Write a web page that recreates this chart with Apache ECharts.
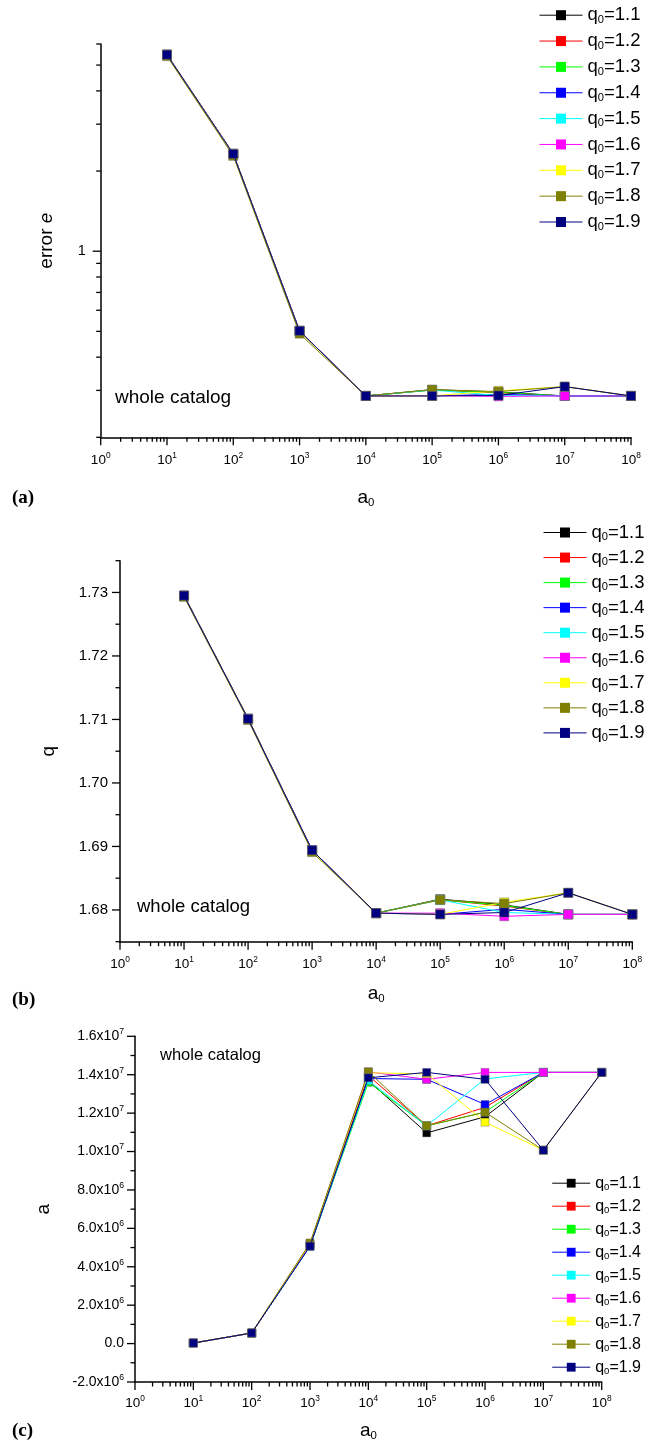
<!DOCTYPE html>
<html>
<head>
<meta charset="utf-8">
<script src="https://cdn.jsdelivr.net/npm/echarts@6/dist/echarts.min.js"></script>
<style>
  html, body { margin: 0; padding: 0; background: #fff; }
  #chart { width: 659px; height: 1446px; }
</style>
</head>
<body>
<div id="chart"></div>
<script>
// Starting scale parameter a0 (x axis of every panel)
const a0 = [1e1, 1e2, 1e3, 1e4, 1e5, 1e6, 1e7, 1e8];

// Initial q0 of each fit run
const q0 = ['1.1', '1.2', '1.3', '1.4', '1.5', '1.6', '1.7', '1.8', '1.9'];
const seriesColors = ['#000000', '#ff0000', '#00ff00', '#0000ff', '#00ffff',
                      '#ff00ff', '#ffff00', '#808000', '#000080'];

// (a) fit error e, one row per q0
const errorE = [
  [5.47, 2.32, 0.502, 0.286, 0.302, 0.296, 0.286, 0.286],
  [5.47, 2.32, 0.502, 0.286, 0.301, 0.294, 0.286, 0.286],
  [5.47, 2.32, 0.502, 0.286, 0.301, 0.295, 0.286, 0.286],
  [5.47, 2.32, 0.502, 0.286, 0.286, 0.290, 0.286, 0.286],
  [5.47, 2.32, 0.502, 0.286, 0.301, 0.287, 0.286, 0.286],
  [5.47, 2.32, 0.502, 0.286, 0.287, 0.285, 0.286, 0.286],
  [5.47, 2.32, 0.500, 0.286, 0.286, 0.299, 0.310, 0.286],
  [5.40, 2.28, 0.490, 0.286, 0.302, 0.297, 0.310, 0.286],
  [5.47, 2.32, 0.502, 0.286, 0.286, 0.287, 0.310, 0.286]
];

// (b) fitted q, one row per q0
const qFit = [
  [1.7295, 1.7101, 1.6894, 1.6795, 1.6817, 1.6808, 1.6793, 1.6793],
  [1.7295, 1.7101, 1.6894, 1.6795, 1.6816, 1.6806, 1.6793, 1.6793],
  [1.7295, 1.7101, 1.6894, 1.6795, 1.6816, 1.6807, 1.6793, 1.6793],
  [1.7295, 1.7101, 1.6894, 1.6795, 1.6793, 1.6801, 1.6793, 1.6793],
  [1.7295, 1.7101, 1.6894, 1.6795, 1.6816, 1.6796, 1.6793, 1.6793],
  [1.7295, 1.7101, 1.6894, 1.6795, 1.6795, 1.6790, 1.6793, 1.6793],
  [1.7295, 1.7101, 1.6893, 1.6795, 1.6793, 1.6812, 1.6827, 1.6793],
  [1.7293, 1.7099, 1.6891, 1.6795, 1.6816, 1.6810, 1.6827, 1.6793],
  [1.7295, 1.7101, 1.6894, 1.6795, 1.6793, 1.6796, 1.6827, 1.6793]
];

// (c) fitted a, one row per q0
const aFit = [
  [3.0e4, 5.5e5, 5.10e6, 1.370e7, 1.097e7, 1.181e7, 1.412e7, 1.412e7],
  [3.0e4, 5.5e5, 5.15e6, 1.395e7, 1.134e7, 1.230e7, 1.412e7, 1.412e7],
  [3.0e4, 5.5e5, 5.10e6, 1.360e7, 1.134e7, 1.205e7, 1.412e7, 1.412e7],
  [3.0e4, 5.5e5, 5.07e6, 1.380e7, 1.376e7, 1.245e7, 1.412e7, 1.412e7],
  [3.0e4, 5.5e5, 5.07e6, 1.370e7, 1.134e7, 1.378e7, 1.412e7, 1.412e7],
  [3.0e4, 5.5e5, 5.15e6, 1.415e7, 1.376e7, 1.412e7, 1.412e7, 1.412e7],
  [3.0e4, 5.5e5, 5.20e6, 1.410e7, 1.405e7, 1.153e7, 1.007e7, 1.412e7],
  [3.0e4, 5.5e5, 5.24e6, 1.415e7, 1.134e7, 1.205e7, 1.007e7, 1.412e7],
  [3.0e4, 5.5e5, 5.07e6, 1.384e7, 1.412e7, 1.376e7, 1.007e7, 1.412e7]
];

// Axis ranges and labelled ticks
const xRange = [1, 1e8];
const eRange = [0.2, 6];
const eMajorTicks = [1];
const qRange = [1.675, 1.735];
const qLabelStep = 0.01;
const aRange = [-2e6, 1.6e7];
const aLabelStep = 2e6;

const FONT = '"Liberation Sans", Arial, sans-serif';
const seriesNames = q0.map(v => 'q0=' + v);

// Minor tick values of a decade axis: 2..9 x 10^n
function decadeMinors(lo, hi) {
  const out = [];
  for (let d = Math.round(Math.log10(lo)); d < Math.round(Math.log10(hi)); d++) {
    for (let m = 2; m <= 9; m++) out.push(m * Math.pow(10, d));
  }
  return out;
}
function decades(lo, hi) {
  const out = [];
  for (let d = Math.round(Math.log10(lo)); d <= Math.round(Math.log10(hi)); d++) out.push(Math.pow(10, d));
  return out;
}
function steps(lo, hi, step) {
  const out = [];
  const n = Math.round((hi - lo) / step);
  for (let i = 0; i <= n; i++) out.push(+(lo + i * step).toFixed(10));
  return out;
}

// Tick items for the custom tick series: [x, y, axisKind(0=x,1=y), major]
function tickItems(xMajor, xMinor, yMajor, yMinor, x0, y0) {
  const out = [];
  xMajor.forEach(v => out.push([v, y0, 0, 1]));
  xMinor.forEach(v => out.push([v, y0, 0, 0]));
  yMajor.forEach(v => out.push([x0, v, 1, 1]));
  yMinor.forEach(v => out.push([x0, v, 1, 0]));
  return out;
}

const eMinorTicks = [0.2, 0.3, 0.4, 0.5, 0.6, 0.7, 0.8, 0.9, 2, 3, 4, 5, 6];
const qAll = steps(qRange[0], qRange[1], qLabelStep / 2);
const qMajor = qAll.filter(v => Math.abs(v * 100 - Math.round(v * 100)) < 1e-6);
const qMinor = qAll.filter(v => Math.abs(v * 100 - Math.round(v * 100)) >= 1e-6);
const aAll = steps(aRange[0], aRange[1], aLabelStep / 2);
const aMajor = aAll.filter(v => Math.abs(v / aLabelStep - Math.round(v / aLabelStep)) < 1e-6);
const aMinor = aAll.filter(v => Math.abs(v / aLabelStep - Math.round(v / aLabelStep)) >= 1e-6);

const ticksA = tickItems(decades(xRange[0], xRange[1]), decadeMinors(xRange[0], xRange[1]), eMajorTicks, eMinorTicks, xRange[0], eRange[0]);
const ticksB = tickItems(decades(xRange[0], xRange[1]), decadeMinors(xRange[0], xRange[1]), qMajor, qMinor, xRange[0], qRange[0]);
const ticksC = tickItems(decades(xRange[0], xRange[1]), decadeMinors(xRange[0], xRange[1]), aMajor, aMinor, xRange[0], aRange[0]);

const supRich = (size) => ({
  b: { fontSize: size, fontFamily: FONT, color: '#000', lineHeight: size + 4 },
  s: { fontSize: size * 0.62, fontFamily: FONT, color: '#000', verticalAlign: 'top', lineHeight: size + 4, padding: [0, 0, size * 0.6, 0] }
});
function powLabel(v) {
  const e = Math.round(Math.log10(v));
  return '{b|10}{s|' + e + '}';
}
function sciLabel(v) {
  if (Math.abs(v) < 1e-9) return '{b|0.0}';
  const e = Math.floor(Math.log10(Math.abs(v)) + 1e-9);
  const m = v / Math.pow(10, e);
  return '{b|' + m.toFixed(1) + 'x10}{s|' + e + '}';
}

const subRich = (size) => ({
  t: { fontSize: size, fontFamily: FONT, color: '#000', lineHeight: size + 2 },
  s: { fontSize: size * 0.6, fontFamily: FONT, color: '#000', verticalAlign: 'bottom', lineHeight: size + 2, padding: [size * 0.45, 0, 0, 0] }
});

function xAxisFor(gridIndex, gap, margin) {
  return {
    type: 'log', logBase: 10, gridIndex, min: xRange[0], max: xRange[1],
    axisLine: { onZero: false, lineStyle: { color: '#000', width: 1.5 } },
    axisTick: { show: false },
    splitLine: { show: false },
    axisLabel: { formatter: powLabel, margin, rich: supRich(13.5) },
    name: '{t|a}{s|0}', nameLocation: 'middle', nameGap: gap,
    nameTextStyle: { rich: subRich(19) }
  };
}

function tickSeries(axisIdx, data) {
  return {
    type: 'custom', xAxisIndex: axisIdx, yAxisIndex: axisIdx, clip: false,
    silent: true, z: 5, data,
    renderItem(params, api) {
      const p = api.coord([api.value(0), api.value(1)]);
      const len = api.value(3) ? 8 : 4.5;
      const horiz = api.value(2) === 1;
      const shape = horiz
        ? { x1: p[0] - len, y1: p[1], x2: p[0], y2: p[1] }
        : { x1: p[0], y1: p[1], x2: p[0], y2: p[1] + len };
      return { type: 'line', shape, style: { stroke: '#000', lineWidth: 1.3 } };
    }
  };
}

const panelValues = [errorE, qFit, aFit];
const symbolSizes = [9, 9, 8];
const series = [];
panelValues.forEach((rows, p) => {
  rows.forEach((row, i) => {
    series.push({
      type: 'line', name: seriesNames[i], xAxisIndex: p, yAxisIndex: p,
      data: a0.map((x, j) => [x, row[j]]),
      symbol: 'rect', symbolSize: symbolSizes[p],
      lineStyle: { width: 1, color: seriesColors[i] },
      itemStyle: { color: seriesColors[i], borderColor: 'rgba(110,110,110,0.7)', borderWidth: 0.6 },
      emphasis: { disabled: true }, animation: false, z: 2 + i * 0.01
    });
  });
});
series.push(tickSeries(0, ticksA), tickSeries(1, ticksB), tickSeries(2, ticksC));

function legendFor(left, top, size, gap, width, height) {
  return {
    data: seriesNames, orient: 'vertical', left, top, itemGap: gap, padding: 0,
    itemWidth: width, itemHeight: height, selectedMode: false,
    itemStyle: { borderWidth: 0 },
    lineStyle: { width: 1 },
    formatter: name => '{t|q}{s|0}{t|' + name.slice(2) + '}',
    textStyle: { rich: subRich(size), padding: [0, 0, 0, 0] }
  };
}

const option = {
  animation: false,
  backgroundColor: '#fff',
  grid: [
    { left: 100.7, right: 28, top: 44, height: 393.3 },
    { left: 120, right: 26.7, top: 560.7, height: 381 },
    { left: 135, right: 57.3, top: 1036.3, height: 345.7 }
  ],
  xAxis: [xAxisFor(0, 50, 14), xAxisFor(1, 42, 14), xAxisFor(2, 38, 13)],
  yAxis: [
    {
      type: 'log', logBase: 10, gridIndex: 0, min: eRange[0], max: eRange[1],
      axisLine: { lineStyle: { color: '#000', width: 1.5 } },
      axisTick: { show: false }, splitLine: { show: false },
      axisLabel: {
        margin: 15, fontSize: 14.5, fontFamily: FONT, color: '#000',
        formatter: v => eMajorTicks.some(t => Math.abs(v - t) < 1e-9) ? String(v) : ''
      },
      name: '{n|error }{i|e}', nameLocation: 'middle', nameRotate: 90, nameGap: 44,
      nameTextStyle: { rich: {
        n: { fontSize: 19, fontFamily: FONT, color: '#000' },
        i: { fontSize: 19, fontFamily: FONT, color: '#000', fontStyle: 'italic' }
      } }
    },
    {
      type: 'value', gridIndex: 1, min: qRange[0], max: qRange[1], interval: qLabelStep / 2,
      axisLine: { show: true, onZero: false, lineStyle: { color: '#000', width: 1.5 } },
      axisTick: { show: false }, splitLine: { show: false },
      axisLabel: {
        margin: 12, fontSize: 15, fontFamily: FONT, color: '#000',
        formatter: v => qMajor.some(t => Math.abs(v - t) < 1e-9) ? v.toFixed(2) : ''
      },
      name: 'q', nameLocation: 'middle', nameRotate: 90, nameGap: 62,
      nameTextStyle: { fontSize: 19, fontFamily: FONT, color: '#000' }
    },
    {
      type: 'value', gridIndex: 2, min: aRange[0], max: aRange[1], interval: aLabelStep,
      axisLine: { show: true, onZero: false, lineStyle: { color: '#000', width: 1.5 } },
      axisTick: { show: false }, splitLine: { show: false },
      axisLabel: { margin: 11, formatter: sciLabel, rich: supRich(14) },
      name: 'a', nameLocation: 'middle', nameRotate: 90, nameGap: 82,
      nameTextStyle: { fontSize: 19, fontFamily: FONT, color: '#000' }
    }
  ],
  legend: [
    legendFor(539, 5.7, 18.5, 6.1, 43, 12.5),
    legendFor(543, 523, 18.5, 5.3, 43, 12.5),
    legendFor(551.7, 1175, 16, 5.8, 38, 11)
  ],
  graphic: [
    { type: 'text', left: 115, top: 388, style: { text: 'whole catalog', font: '19px ' + FONT, fill: '#000' } },
    { type: 'text', left: 137, top: 897, style: { text: 'whole catalog', font: '18.5px ' + FONT, fill: '#000' } },
    { type: 'text', left: 160, top: 1047, style: { text: 'whole catalog', font: '16.5px ' + FONT, fill: '#000' } },
    { type: 'text', left: 12, top: 489, style: { text: '(a)', font: 'bold 19px "Liberation Serif", "Times New Roman", serif', fill: '#000' } },
    { type: 'text', left: 12, top: 991, style: { text: '(b)', font: 'bold 19px "Liberation Serif", "Times New Roman", serif', fill: '#000' } },
    { type: 'text', left: 12, top: 1422, style: { text: '(c)', font: 'bold 19px "Liberation Serif", "Times New Roman", serif', fill: '#000' } }
  ],
  series
};

const chart = echarts.init(document.getElementById('chart'), null, { renderer: 'canvas' });
chart.setOption(option);
</script>
</body>
</html>
